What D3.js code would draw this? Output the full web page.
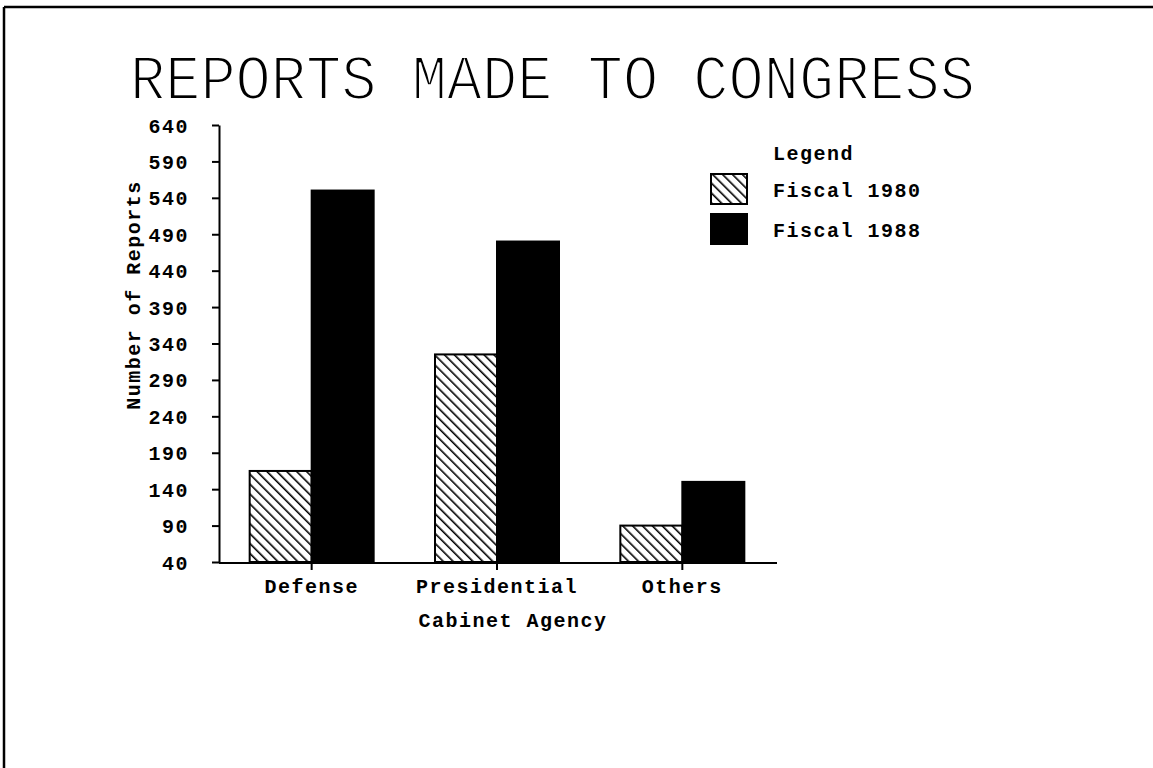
<!DOCTYPE html>
<html>
<head>
<meta charset="utf-8">
<script src="https://cdn.jsdelivr.net/npm/d3@7"></script>
<style>
  body { margin: 0; background: #fff; }
  text { font-family: "Liberation Mono", "DejaVu Sans Mono", monospace; fill: #000; }
  .lbl { font-size: 20px; font-weight: bold; letter-spacing: 1.5px; }
</style>
</head>
<body>
<div id="chart"></div>
<script>
// Data
var agencies = ["Defense", "Presidential", "Others"];
var seriesNames = ["Fiscal 1980", "Fiscal 1988"];
var fiscal1980 = [165, 325, 90];
var fiscal1988 = [550, 480, 150];
var yTicks = [40, 90, 140, 190, 240, 290, 340, 390, 440, 490, 540, 590, 640];

var width = 1153, height = 768;

var svg = d3.select("#chart").append("svg")
  .attr("width", width)
  .attr("height", height);

// hatch pattern for the 1980 bars (lines running top-left to bottom-right)
var defs = svg.append("defs");
var pat = defs.append("pattern")
  .attr("id", "hatch")
  .attr("patternUnits", "userSpaceOnUse")
  .attr("width", 7)
  .attr("height", 7)
  .attr("patternTransform", "rotate(-45)");
pat.append("rect").attr("width", 7).attr("height", 7).attr("fill", "#fff");
pat.append("line")
  .attr("x1", 0).attr("y1", 0).attr("x2", 0).attr("y2", 7)
  .attr("stroke", "#000").attr("stroke-width", 3.2);

// page frame (only top and left edges show in the scan)
svg.append("line").attr("x1", 4).attr("y1", 7).attr("x2", width).attr("y2", 7)
  .attr("stroke", "#000").attr("stroke-width", 2.5);
svg.append("line").attr("x1", 4).attr("y1", 7).attr("x2", 4).attr("y2", height)
  .attr("stroke", "#000").attr("stroke-width", 2.5);

// title, thinned with a white outline and stretched a little in height
svg.append("text")
  .attr("transform", "translate(130,99) scale(1,1.1)")
  .attr("font-size", 58)
  .attr("textLength", 845)
  .attr("lengthAdjust", "spacingAndGlyphs")
  .attr("stroke", "#fff")
  .attr("stroke-width", 2)
  .text("REPORTS MADE TO CONGRESS");

// scales
var x0 = d3.scaleBand().domain(agencies).range([219, 775]);
var x1 = d3.scaleBand().domain(seriesNames).range([0, 124]);
var y = d3.scaleLinear().domain([40, 640]).range([562, 125]);

var table = agencies.map(function(a, i) {
  return { agency: a, values: [
    { name: seriesNames[0], v: fiscal1980[i] },
    { name: seriesNames[1], v: fiscal1988[i] }
  ]};
});

// bars
var groups = svg.selectAll("g.grp").data(table).enter().append("g")
  .attr("class", "grp")
  .attr("transform", function(d) {
    return "translate(" + (x0(d.agency) + x0.bandwidth() / 2 - 62) + ",0)";
  });

groups.selectAll("rect").data(function(d) { return d.values; }).enter()
  .append("rect")
  .attr("x", function(d) { return x1(d.name); })
  .attr("width", x1.bandwidth())
  .attr("y", function(d) { return y(d.v); })
  .attr("height", function(d) { return y(40) - y(d.v); })
  .attr("fill", function(d) { return d.name === seriesNames[0] ? "url(#hatch)" : "#000"; })
  .attr("stroke", "#000")
  .attr("stroke-width", 2);

// y axis
var yAxis = svg.append("g")
  .attr("transform", "translate(219,0)")
  .call(d3.axisLeft(y).tickValues(yTicks).tickSize(7).tickPadding(23).tickSizeOuter(0));
yAxis.select(".domain").attr("stroke-width", 2);
yAxis.selectAll(".tick line").attr("stroke-width", 2);
yAxis.selectAll(".tick text").attr("class", "lbl").attr("dy", "0.35em")
  .attr("font-family", null).attr("font-size", null);

// x axis
var xAxis = svg.append("g")
  .attr("transform", "translate(0,563)")
  .call(d3.axisBottom(x0).tickSize(7).tickPadding(10).tickSizeOuter(0));
xAxis.select(".domain").attr("d", "M219,0H777").attr("stroke-width", 2);
xAxis.selectAll(".tick line").attr("stroke-width", 2);
xAxis.selectAll(".tick text").attr("class", "lbl")
  .attr("font-family", null).attr("font-size", null)
  .attr("y", 30).attr("dy", 0);

// axis titles
svg.append("text").attr("class", "lbl")
  .attr("x", 513).attr("y", 627)
  .attr("text-anchor", "middle")
  .text("Cabinet Agency");

svg.append("text").attr("class", "lbl")
  .attr("transform", "translate(140,295) rotate(-90)")
  .attr("text-anchor", "middle")
  .text("Number of Reports");

// legend
var legend = svg.append("g").attr("transform", "translate(711,0)");
legend.append("text").attr("class", "lbl").attr("x", 62).attr("y", 160).text("Legend");
var items = legend.selectAll("g.item").data(seriesNames).enter().append("g")
  .attr("class", "item")
  .attr("transform", function(d, i) { return "translate(0," + (174 + i * 40) + ")"; });
items.append("rect")
  .attr("width", 36).attr("height", 30)
  .attr("fill", function(d, i) { return i === 0 ? "url(#hatch)" : "#000"; })
  .attr("stroke", "#000").attr("stroke-width", 2);
items.append("text").attr("class", "lbl")
  .attr("x", 62).attr("y", 23)
  .text(function(d) { return d; });
</script>
</body>
</html>
